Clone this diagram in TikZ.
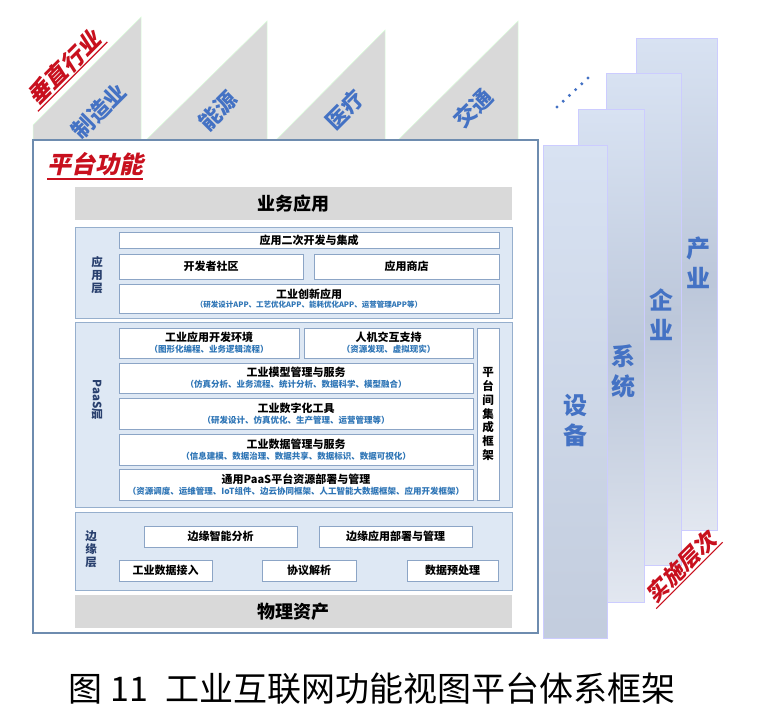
\documentclass[tikz,border=0pt]{standalone}
\usepackage{fontspec}
\setmainfont{Noto Sans CJK SC}
\newfontfamily\slfont[FakeSlant=0.22]{Noto Sans CJK SC}
\usetikzlibrary{calc}
\definecolor{mred}{RGB}{200,16,30}
\definecolor{tblue}{RGB}{68,114,196}
\definecolor{sblue}{RGB}{46,117,182}
\definecolor{lab}{RGB}{41,64,110}
\definecolor{layfill}{RGB}{222,232,244}
\definecolor{laydraw}{RGB}{150,175,205}
\definecolor{boxdraw}{RGB}{140,165,198}
\definecolor{greyfill}{RGB}{217,217,217}
\definecolor{outerc}{RGB}{110,140,175}
\definecolor{bartop}{RGB}{216,226,242}
\definecolor{barmid}{RGB}{188,199,218}
\definecolor{barbot}{RGB}{226,231,240}
\newcommand\subtxt[1]{{\color{sblue}\fontsize{8.5}{10}\selectfont #1}}
\begin{document}
\begin{tikzpicture}[x=1pt,y=-1pt,
  tri/.style={fill=greyfill, draw=white!85!green, line width=0.5pt},
  outerbox/.style={draw=outerc, line width=1.3pt, fill=white},
  layer/.style={draw=laydraw, line width=0.8pt, fill=layfill, inner sep=0pt},
  bigbar/.style={fill=greyfill, inner sep=0pt, minimum width=437, minimum height=33, font=\fontsize{18}{20}\selectfont\bfseries},
  ibox/.style={draw=boxdraw, line width=0.7pt, fill=white, inner sep=0pt, align=center, font=\fontsize{11}{12}\selectfont\bfseries},
  laylab/.style={text=lab, align=center, inner sep=0pt, font=\fontsize{11.5}{12.7}\selectfont\bfseries},
  trilab/.style={text=tblue, rotate=45, inner sep=0pt, font=\fontsize{22}{24}\selectfont\bfseries},
  barlab/.style={text=tblue, align=center, inner sep=0pt, font=\fontsize{24}{30}\selectfont\bfseries},
  redlab/.style={text=mred, inner sep=1pt, font=\slfont\bfseries\fontsize{23}{25}\selectfont},
  bar/.style={draw=white!80!blue, line width=0.6pt, top color=bartop, bottom color=barbot, middle color=barmid}
]
\useasboundingbox (0,0) rectangle (766,721);

% triangles (vertical industries)
\fill[tri] (33,140) -- (33,125) -- (141,17) -- (141,140) -- cycle;
\fill[tri] (146,140) -- (267,21) -- (267,140) -- cycle;
\fill[tri] (276,140) -- (385,30) -- (385,140) -- cycle;
\fill[tri] (398,140) -- (518,21) -- (518,140) -- cycle;
\node[trilab] (t1) at (99,111) {制造业};
\node[trilab] (t2) at (218,111) {能源};
\node[trilab] (t3) at (345,110) {医疗};
\node[trilab] (t4) at (473,108) {交通};

\node[redlab, rotate=45] (vert) at (64,68) {垂直行业};
\draw[mred, line width=1.3pt] ($(vert.south west)!-0.02!(vert.south east)$) -- ($(vert.south west)!1.02!(vert.south east)$);

% dots
\foreach \i in {0,...,5} \fill[tblue] (557+6.2*\i,107-5.8*\i) circle (1.7);

% implementation-level bars
\shade[bar] (636,38) rectangle (717,530);
\shade[bar] (606,73) rectangle (681,565);
\shade[bar] (578,109) rectangle (644,602);
\shade[bar, top color=bartop, middle color=barmid, bottom color=barmid!90!white] (543,145) rectangle (607,638);
\node[barlab] (b4) at (698,263) {产\\业};
\node[barlab] (b3) at (661,315) {企\\业};
\node[barlab] (b2) at (623,371) {系\\统};
\node[barlab] (b1) at (575,420) {设\\备};

\node[redlab, rotate=45, font=\slfont\bfseries\fontsize{22}{24}\selectfont] (impl) at (681,567) {实施层次};
\draw[mred, line width=1.1pt] ($(impl.south west)!-0.02!(impl.south east)$) -- ($(impl.south west)!1.02!(impl.south east)$);

% outer platform box
\draw[outerbox] (33,140) rectangle (538,633);
\node[redlab, anchor=west, font=\slfont\bfseries\fontsize{24}{26}\selectfont] (pf) at (46,164) {平台功能};
\draw[mred, line width=1.3pt] (47,179) -- (143,179);

\node[bigbar] (biz) at (293.5,203.5) {业务应用};
\node[bigbar] (phy) at (293.5,611.5) {物理资产};

% application layer
\node[layer, minimum width=437, minimum height=91] (app) at (293.5,272.5) {};
\node[laylab] (appl) at (97,275) {应\\用\\层};
\node[ibox, minimum width=380, minimum height=16] (a1) at (309,240) {应用二次开发与集成};
\node[ibox, minimum width=184, minimum height=25] (a2) at (211,266.5) {开发者社区};
\node[ibox, minimum width=185, minimum height=25] (a3) at (406.5,266.5) {应用商店};
\node[ibox, minimum width=380, minimum height=29] (a4) at (309,298.5) {工业创新应用\\[-3pt]{\color{sblue}\fontsize{7.5}{9}\selectfont （研发设计APP、工艺优化APP、能耗优化APP、运营管理APP等）}};

% PaaS layer
\node[layer, minimum width=437, minimum height=185] (paas) at (293.5,414.5) {};
\node[laylab, rotate=-90] (paasl) at (97,400) {PaaS层};
\node[ibox, minimum width=180, minimum height=30] (p1) at (209,343) {工业应用开发环境\\[-1pt]\subtxt{（图形化编程、业务逻辑流程）}};
\node[ibox, minimum width=169, minimum height=30] (p2) at (388.5,343) {人机交互支持\\[-1pt]\subtxt{（资源发现、虚拟现实）}};
\node[ibox, minimum width=354, minimum height=30] (p3) at (296,378) {工业模型管理与服务\\[-1pt]\subtxt{（仿真分析、业务流程、统计分析、数据科学、模型融合）}};
\node[ibox, minimum width=354, minimum height=31] (p4) at (296,413.5) {工业数字化工具\\[-1pt]\subtxt{（研发设计、仿真优化、生产管理、运营管理等）}};
\node[ibox, minimum width=354, minimum height=31] (p5) at (296,449.5) {工业数据管理与服务\\[-1pt]\subtxt{（信息建模、数据治理、数据共享、数据标识、数据可视化）}};
\node[ibox, minimum width=354, minimum height=31] (p6) at (296,484.5) {通用PaaS平台资源部署与管理\\[-1pt]\subtxt{（资源调度、运维管理、IoT组件、边云协同框架、人工智能大数据框架、应用开发框架）}};
\node[ibox, minimum width=22, minimum height=172, font=\fontsize{11.5}{13.8}\selectfont\bfseries] (pi) at (488,414) {平\\台\\间\\集\\成\\框\\架};

% edge layer
\node[layer, minimum width=437, minimum height=78] (edge) at (293.5,551) {};
\node[laylab] (edgel) at (91,549) {边\\缘\\层};
\node[ibox, minimum width=153, minimum height=21] (e1) at (220.5,536.5) {边缘智能分析};
\node[ibox, minimum width=153, minimum height=21] (e2) at (395.5,536.5) {边缘应用部署与管理};
\node[ibox, minimum width=93, minimum height=21] (e3) at (165.5,570.5) {工业数据接入};
\node[ibox, minimum width=94, minimum height=21] (e4) at (309,570.5) {协议解析};
\node[ibox, minimum width=91, minimum height=21] (e5) at (452.5,570.5) {数据预处理};

% caption
\node[inner sep=0pt, font=\fontsize{34}{36}\selectfont] (cap) at (372,689) {图 11\hspace{0.5em}工业互联网功能视图平台体系框架};
\end{tikzpicture}
\end{document}
